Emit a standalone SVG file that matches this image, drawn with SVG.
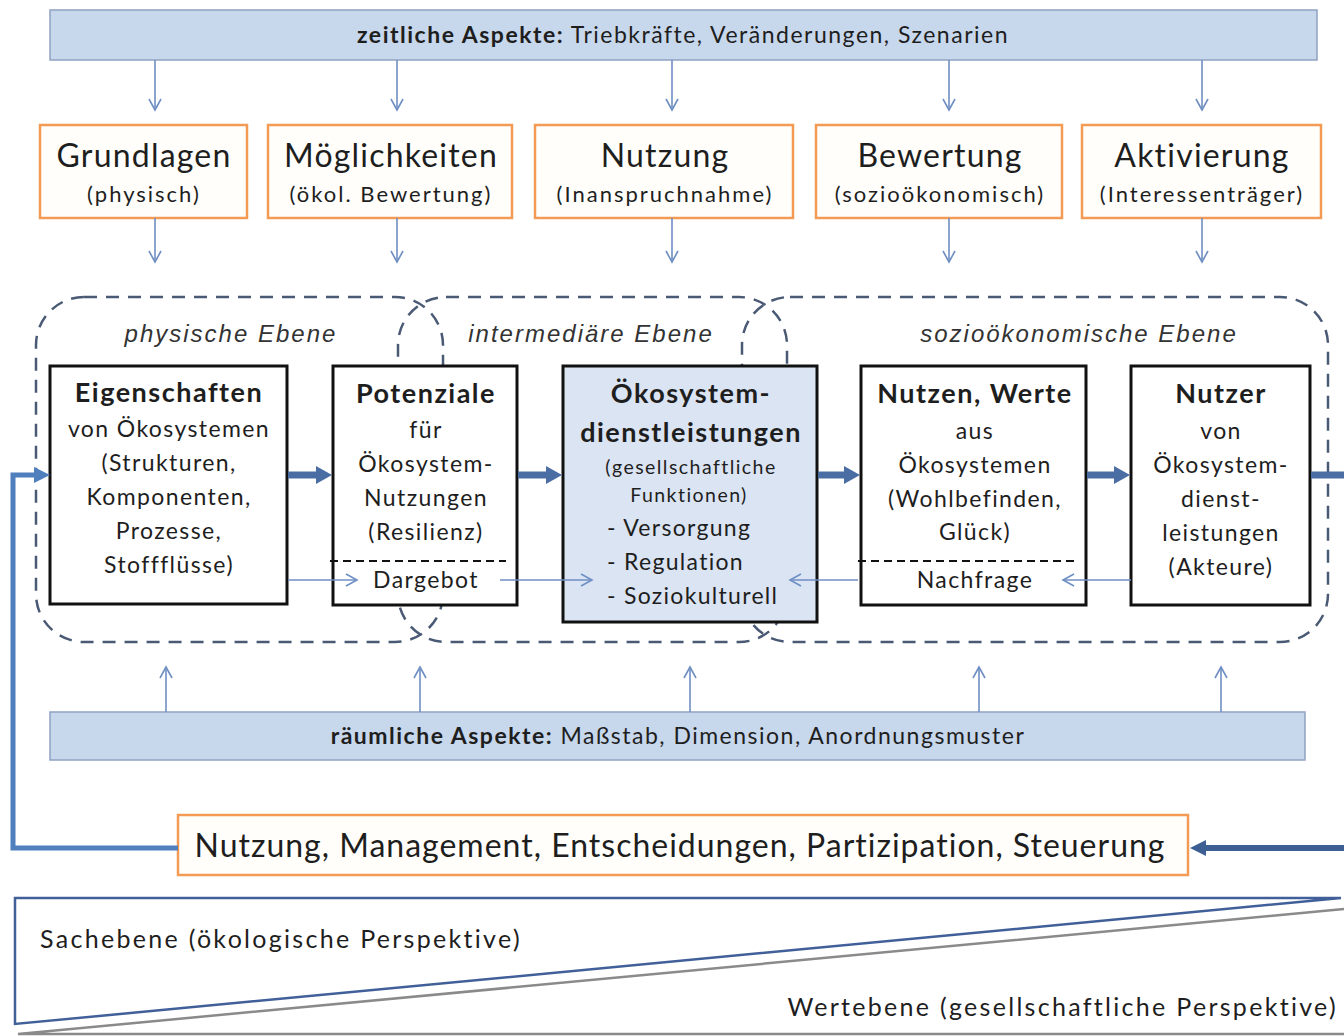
<svg xmlns="http://www.w3.org/2000/svg" width="1344" height="1036" viewBox="0 0 1344 1036">
  <style>
    .bar { fill: #c7d7ec; stroke: #8ea3c2; stroke-width: 1.5; }
    .obox { fill: #fffefb; stroke: #f39a55; stroke-width: 2.5; }
    .box { fill: #ffffff; stroke: #111111; stroke-width: 3; }
    .box-blue { fill: #dbe4f2; stroke: #111111; stroke-width: 3; }
    .level { fill: none; stroke: #4a5a75; stroke-width: 2.5; stroke-dasharray: 13 9; }
    .sep { stroke: #111111; stroke-width: 2; stroke-dasharray: 8 5; }
    .thin { fill: none; stroke: #6f8fc3; stroke-width: 1.6; marker-end: url(#open); }
    .thick { fill: none; stroke: #4a6ea4; stroke-width: 7; marker-end: url(#solid); }
    .loop { fill: none; stroke: #4f7fbd; stroke-width: 5; }
    .t { font-family: Lato, "Open Sans", "DejaVu Sans", sans-serif; fill: #1e1e1e; text-anchor: middle; }
    .b { font-weight: bold; }
    .bar-text { font-size: 23px; letter-spacing: 1.5px; }
    .title { font-size: 32px; letter-spacing: 1.2px; }
    .sub { font-size: 22px; letter-spacing: 2px; }
    .head { font-size: 27px; font-weight: bold; letter-spacing: 1.5px; }
    .body { font-size: 23px; letter-spacing: 1.4px; }
    .small { font-size: 19.5px; letter-spacing: 1.45px; }
    .item { font-size: 23px; letter-spacing: 1.3px; text-anchor: start; }
    .mgmt { font-size: 32px; letter-spacing: 1px; }
    .persp { font-size: 25px; letter-spacing: 2.3px; }
    .lvl { font-family: "Liberation Sans", Arial, sans-serif; font-style: italic; font-size: 24px; letter-spacing: 2px; fill: #333333; text-anchor: middle; }
  </style>
  <defs>
    <marker id="open" markerUnits="userSpaceOnUse" markerWidth="14" markerHeight="14" viewBox="0 0 14 14" refX="12" refY="7" orient="auto">
      <path d="M1,1 L12,7 L1,13" fill="none" stroke="#6f8fc3" stroke-width="1.6"/>
    </marker>
    <marker id="solid" markerUnits="userSpaceOnUse" markerWidth="16" markerHeight="20" viewBox="0 0 16 20" refX="2" refY="10" orient="auto">
      <path d="M0,1 L16,10 L0,19 Z" fill="#4a6ea4"/>
    </marker>
    <marker id="solid-loop" markerUnits="userSpaceOnUse" markerWidth="16" markerHeight="18" viewBox="0 0 16 18" refX="2" refY="9" orient="auto">
      <path d="M0,1 L16,9 L0,17 Z" fill="#4f7fbd"/>
    </marker>
    <marker id="solid-dark" markerUnits="userSpaceOnUse" markerWidth="16" markerHeight="18" viewBox="0 0 16 18" refX="2" refY="9" orient="auto">
      <path d="M0,1 L16,9 L0,17 Z" fill="#3e5f93"/>
    </marker>
  </defs>

  <!-- temporal aspects bar -->
  <g id="zeitliche-aspekte">
    <rect class="bar" x="50" y="10" width="1267" height="50"/>
    <text class="t bar-text" x="683" y="43"><tspan class="b">zeitliche Aspekte:</tspan> Triebkräfte, Veränderungen, Szenarien</text>
  </g>

  <!-- perspective boxes -->
  <g id="grundlagen">
    <rect class="obox" x="40" y="125" width="207" height="93"/>
    <text class="t title" x="144" y="167">Grundlagen</text>
    <text class="t sub" x="144" y="202">(physisch)</text>
  </g>
  <g id="moeglichkeiten">
    <rect class="obox" x="268" y="125" width="244" height="93"/>
    <text class="t title" x="391" y="167">Möglichkeiten</text>
    <text class="t sub" x="391" y="202">(ökol. Bewertung)</text>
  </g>
  <g id="nutzung">
    <rect class="obox" x="535" y="125" width="258" height="93"/>
    <text class="t title" x="665" y="167">Nutzung</text>
    <text class="t sub" x="665" y="202">(Inanspruchnahme)</text>
  </g>
  <g id="bewertung">
    <rect class="obox" x="816" y="125" width="246" height="93"/>
    <text class="t title" x="940" y="167">Bewertung</text>
    <text class="t sub" x="940" y="202">(sozioökonomisch)</text>
  </g>
  <g id="aktivierung">
    <rect class="obox" x="1082" y="125" width="239" height="93"/>
    <text class="t title" x="1202" y="167">Aktivierung</text>
    <text class="t sub" x="1202" y="202">(Interessenträger)</text>
  </g>

  <!-- levels (dashed regions) -->
  <g id="ebenen">
    <rect class="level" x="36" y="297" width="407" height="345" rx="48" ry="48"/>
    <rect class="level" x="398" y="297" width="389" height="345" rx="48" ry="48"/>
    <rect class="level" x="742" y="297" width="586" height="345" rx="48" ry="48"/>
    <text class="lvl" x="231" y="342">physische Ebene</text>
    <text class="lvl" x="591" y="342">intermediäre Ebene</text>
    <text class="lvl" x="1079" y="342">sozioökonomische Ebene</text>
  </g>

  <!-- cascade boxes -->
  <g id="eigenschaften">
    <rect class="box" x="50" y="366" width="237" height="238"/>
    <text class="t head" x="169" y="402">Eigenschaften</text>
    <text class="t body" x="169" y="437">von Ökosystemen</text>
    <text class="t body" x="169" y="471">(Strukturen,</text>
    <text class="t body" x="169" y="505">Komponenten,</text>
    <text class="t body" x="169" y="539">Prozesse,</text>
    <text class="t body" x="169" y="573">Stoffflüsse)</text>
  </g>
  <g id="potenziale">
    <rect class="box" x="333" y="366" width="184" height="239"/>
    <text class="t head" x="426" y="403">Potenziale</text>
    <text class="t body" x="426" y="438">für</text>
    <text class="t body" x="426" y="472">Ökosystem-</text>
    <text class="t body" x="426" y="506">Nutzungen</text>
    <text class="t body" x="426" y="540">(Resilienz)</text>
    <line class="sep" x1="330" y1="561" x2="506" y2="561"/>
    <text class="t body" x="426" y="588">Dargebot</text>
  </g>
  <g id="oekosystemdienstleistungen">
    <rect class="box-blue" x="563" y="366" width="254" height="256"/>
    <text class="t head" x="691" y="403">Ökosystem-</text>
    <text class="t head" x="691" y="442">dienstleistungen</text>
    <text class="t small" x="691" y="474">(gesellschaftliche</text>
    <text class="t small" x="689" y="502">Funktionen)</text>
    <text class="t item" x="607" y="536">- Versorgung</text>
    <text class="t item" x="607" y="570">- Regulation</text>
    <text class="t item" x="607" y="604">- Soziokulturell</text>
  </g>
  <g id="nutzen-werte">
    <rect class="box" x="861" y="366" width="225" height="239"/>
    <text class="t head" x="975" y="403">Nutzen, Werte</text>
    <text class="t body" x="975" y="439">aus</text>
    <text class="t body" x="975" y="473">Ökosystemen</text>
    <text class="t body" x="975" y="507">(Wohlbefinden,</text>
    <text class="t body" x="975" y="540">Glück)</text>
    <line class="sep" x1="858" y1="561" x2="1076" y2="561"/>
    <text class="t body" x="975" y="588">Nachfrage</text>
  </g>
  <g id="nutzer">
    <rect class="box" x="1131" y="366" width="179" height="239"/>
    <text class="t head" x="1221" y="403">Nutzer</text>
    <text class="t body" x="1221" y="439">von</text>
    <text class="t body" x="1221" y="473">Ökosystem-</text>
    <text class="t body" x="1221" y="507">dienst-</text>
    <text class="t body" x="1221" y="541">leistungen</text>
    <text class="t body" x="1221" y="575">(Akteure)</text>
  </g>

  <!-- spatial aspects bar -->
  <g id="raeumliche-aspekte">
    <rect class="bar" x="50" y="712" width="1255" height="48"/>
    <text class="t bar-text" x="678" y="744"><tspan class="b">räumliche Aspekte:</tspan> Maßstab, Dimension, Anordnungsmuster</text>
  </g>

  <!-- management box -->
  <g id="management">
    <rect class="obox" x="178" y="815" width="1010" height="60"/>
    <text class="t mgmt" x="680" y="857">Nutzung, Management, Entscheidungen, Partizipation, Steuerung</text>
  </g>

  <!-- perspectives wedge -->
  <g id="perspektiven">
    <path d="M1344,909 L18,1034 L1344,1034" fill="none" stroke="#8a8a8a" stroke-width="2.5"/>
    <path d="M1341,898 L15,898 L15,1024 Z" fill="none" stroke="#41609a" stroke-width="2.5" stroke-linejoin="miter"/>
    <text class="t persp" x="40" y="948" style="text-anchor:start">Sachebene (ökologische Perspektive)</text>
    <text class="t persp" x="1338" y="1016" style="text-anchor:end">Wertebene (gesellschaftliche Perspektive)</text>
  </g>

  <!-- connectors -->
  <g id="connectors">
    <!-- temporal aspects to perspective boxes -->
    <line class="thin" x1="155" y1="60" x2="155" y2="110"/>
    <line class="thin" x1="397" y1="60" x2="397" y2="110"/>
    <line class="thin" x1="672" y1="60" x2="672" y2="110"/>
    <line class="thin" x1="949" y1="60" x2="949" y2="110"/>
    <line class="thin" x1="1202" y1="60" x2="1202" y2="110"/>
    <!-- perspective boxes to levels -->
    <line class="thin" x1="155" y1="218" x2="155" y2="262"/>
    <line class="thin" x1="397" y1="218" x2="397" y2="262"/>
    <line class="thin" x1="672" y1="218" x2="672" y2="262"/>
    <line class="thin" x1="949" y1="218" x2="949" y2="262"/>
    <line class="thin" x1="1202" y1="218" x2="1202" y2="262"/>
    <!-- spatial aspects to levels -->
    <line class="thin" x1="166" y1="712" x2="166" y2="667"/>
    <line class="thin" x1="420" y1="712" x2="420" y2="667"/>
    <line class="thin" x1="690" y1="712" x2="690" y2="667"/>
    <line class="thin" x1="979" y1="712" x2="979" y2="667"/>
    <line class="thin" x1="1221" y1="712" x2="1221" y2="667"/>
    <!-- supply and demand -->
    <line class="thin" x1="288" y1="580" x2="357" y2="580"/>
    <line class="thin" x1="500" y1="580" x2="592" y2="580"/>
    <line class="thin" x1="858" y1="580" x2="790" y2="580"/>
    <line class="thin" x1="1131" y1="580" x2="1063" y2="580"/>
    <!-- cascade -->
    <line class="thick" x1="288" y1="475" x2="318" y2="475"/>
    <line class="thick" x1="518" y1="475" x2="548" y2="475"/>
    <line class="thick" x1="818" y1="475" x2="846" y2="475"/>
    <line class="thick" x1="1087" y1="475" x2="1116" y2="475"/>
    <!-- feedback loop -->
    <line x1="1311" y1="475" x2="1344" y2="475" stroke="#4a6ea4" stroke-width="7"/>
    <line x1="1344" y1="848" x2="1204" y2="848" stroke="#3e5f93" stroke-width="6" marker-end="url(#solid-dark)"/>
    <path class="loop" d="M178,848 H13 V475 H36" marker-end="url(#solid-loop)"/>
  </g>
</svg>
